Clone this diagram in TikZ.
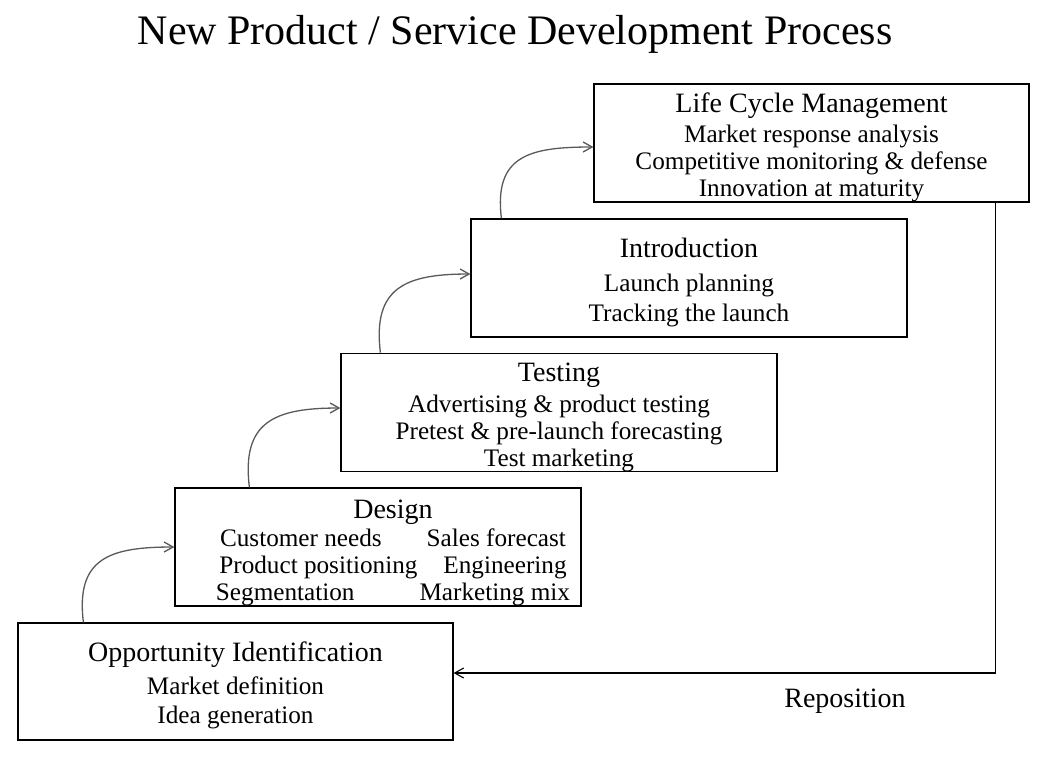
\documentclass[tikz,border=0pt]{standalone}
\usepackage{fontspec}
\setmainfont{Liberation Serif}
\usetikzlibrary{arrows.meta}

\newcommand{\headsize}{\fontsize{28}{31}\selectfont\rule{0pt}{28pt}}
\newcommand{\itemsize}{\fontsize{25.2}{27}\selectfont}

\begin{document}
\begin{tikzpicture}[x=1pt,y=1pt,
                    stage/.style={draw,line width=1.2pt,align=center,
                                  inner sep=0pt,font=\itemsize},
                    climb/.style={draw=black!65,line width=1.3pt,
                                  -{Straight Barb[length=9pt,width=10pt]},
                                  out=97,in=180,looseness=1.4}]
      \useasboundingbox (0,0) rectangle (1046,-758);
      \node[font=\fontsize{42}{48}\selectfont,anchor=base] (Title) at (515,-44)
            {New Product / Service Development Process};
      \node[stage,minimum width=435pt,minimum height=117pt] (Opp)   at (235.5,-681.5)
            {{\headsize Opportunity Identification}\\[6pt]
             Market definition\\[2pt] Idea generation};
      \node[stage,minimum width=406pt,minimum height=118pt] (Des)   at (378,-547) {};
      \node[align=center,inner sep=0pt,font=\itemsize]       (DesText) at (393,-548)
            {{\headsize Design}\\[1pt]
             Customer needs\hspace{45pt}Sales forecast\\
             Product positioning\hspace{26pt}Engineering\\
             Segmentation\hspace{65pt}Marketing mix};
      \node[stage,minimum width=436pt,minimum height=117pt] (Test)  at (559,-412.5)
            {{\headsize Testing}\\[4pt]
             Advertising \& product testing\\
             Pretest \& pre-launch forecasting\\
             Test marketing};
      \node[stage,minimum width=436pt,minimum height=118pt] (Intro) at (689,-278)
            {{\headsize Introduction}\\[7pt]
             Launch planning\\[3pt] Tracking the launch};
      \node[stage,minimum width=435pt,minimum height=118pt] (Life)  at (811.5,-143)
            {{\headsize Life Cycle Management}\\[3pt]
             Market response analysis\\
             Competitive monitoring \& defense\\
             Innovation at maturity};
      \node[font=\headsize,anchor=base] (Repos) at (845,-707) {Reposition};
      \path ([xshift=66pt]Opp.north west)  edge [climb] (Des.west)
            ([xshift=75pt]Des.north west)  edge [climb] ([yshift=4.5pt]Test.west)
            ([xshift=40pt]Test.north west) edge [climb] ([yshift=4pt]Intro.west)
            ([xshift=31pt]Intro.north west) edge [climb] ([yshift=-4pt]Life.west);
      \draw[line width=1.1pt,-{Straight Barb[length=9pt,width=10pt]}]
            ([xshift=-34pt]Life.south east) |- ([yshift=8.5pt]Opp.east);
\end{tikzpicture}
\end{document}
